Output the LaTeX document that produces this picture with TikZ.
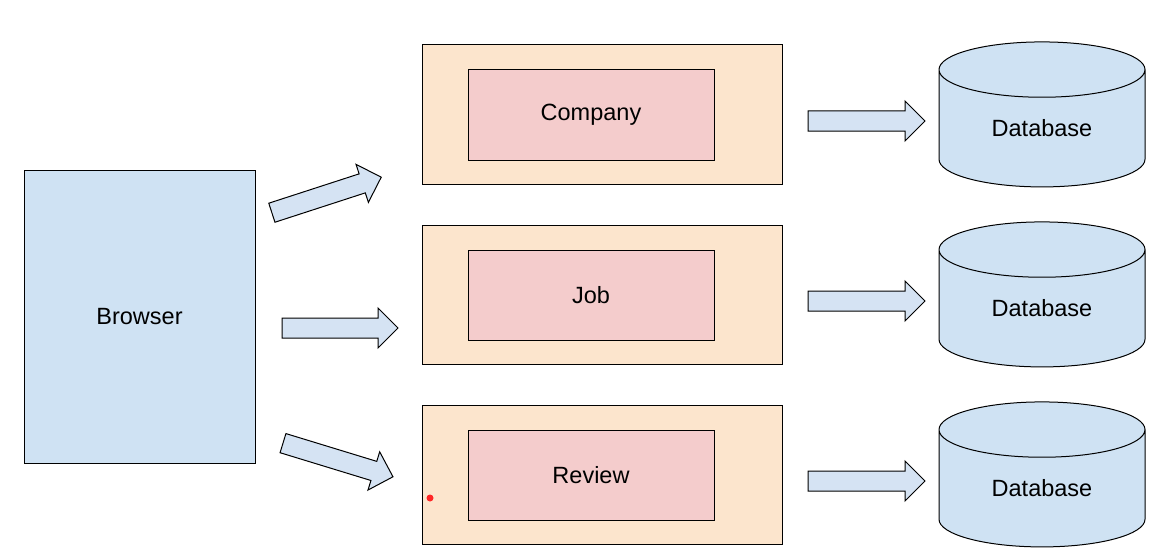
\documentclass[tikz,border=0pt]{standalone}
\usepackage{fontspec}
\setmainfont{Liberation Sans}
\usetikzlibrary{positioning,calc,shapes.geometric,shapes.arrows}
\definecolor{lightblue}{HTML}{CFE2F3}
\definecolor{arrowblue}{HTML}{D5E3F3}
\definecolor{lightpeach}{HTML}{FCE5CD}
\definecolor{lightpink}{HTML}{F4CCCC}
\tikzset{%
  every box/.style={
    draw,
    line width=1pt,
    inner sep=0pt,
    font=\fontsize{23.5}{27}\selectfont
  },
  browser box/.style={
    every box,
    fill=lightblue,
    minimum width=231pt,
    minimum height=293pt
  },
  service box/.style={
    every box,
    fill=lightpeach,
    minimum width=360pt,
    minimum height=139pt
  },
  module box/.style={
    every box,
    fill=lightpink,
    minimum width=246pt,
    minimum height=90pt
  },
  database/.style={
    every box,
    cylinder,
    shape border rotate=90,
    fill=lightblue,
    minimum width=206pt,
    minimum height=145pt,
    aspect=0.55
  },
  block arrow/.style={
    single arrow,
    draw,
    line width=1pt,
    fill=arrowblue,
    inner xsep=0pt,
    inner ysep=9.5pt,
    minimum width=39pt,
    single arrow head extend=10pt,
    single arrow head indent=0pt
  },
}

\begin{document}
\begin{tikzpicture}[x=1pt, y=-1pt]
        \useasboundingbox (0,0) rectangle (1163,551);

        \node [browser box] (browser) at (139.5,316.5) {Browser};

        \foreach \l [count=\i] in {Company,Job,Review} {
            \node [service box] (service-\i) at (602,114.5+180*\i-180) {};
            \node [module box] (module-\i) at (591,115+180*\i-180) {\l};
            \node [database] (db-\i) at (1042,128.5+180*\i-180) {Database};
            \node [block arrow, minimum height=117pt] (to-db-\i) at (861.5,121+180*\i-180) {};
        }

        \node [block arrow, minimum height=115pt, rotate=18] (to-service-1) at (321.8,196.5) {};
        \node [block arrow, minimum height=116pt] (to-service-2) at (335,328) {};
        \node [block arrow, minimum height=115pt, rotate=-17] (to-service-3) at (333.2,458.5) {};

        \node [circle, fill=red!85!white, inner sep=0pt, minimum size=7pt] (pointer) at (430,498) {};
        \end{tikzpicture}
\end{document}
